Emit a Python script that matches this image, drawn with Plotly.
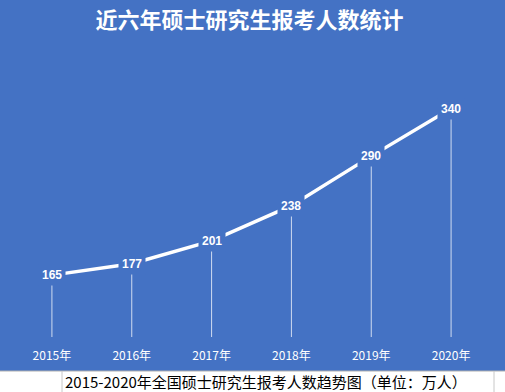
import plotly.graph_objects as go

years = ["2015年", "2016年", "2017年", "2018年", "2019年", "2020年"]
values = [165, 177, 201, 238, 290, 340]
title_text = "近六年硕士研究生报考人数统计"
caption_text = "2015-2020年全国硕士研究生报考人数趋势图（单位：万人）"
y_min, y_max = 100, 350

BLUE = "#4472C4"
W, H = 505, 392
L, R, T, B = 12, 14, 99, 55
PW, PH = W - L - R, H - T - B

def px_x(p):
    return (p - L) / PW

def px_y(p):
    return (H - B - p) / PH

fig = go.Figure()

# drop lines from each point to the axis base
dx, dy = [], []
for yr, v in zip(years, values):
    dx += [yr, yr, None]
    dy += [v, y_min, None]
fig.add_trace(go.Scatter(x=dx, y=dy, mode="lines",
                         line=dict(color="rgba(255,255,255,0.75)", width=1),
                         hoverinfo="skip", showlegend=False))

# main line
fig.add_trace(go.Scatter(x=years, y=values, mode="lines",
                         line=dict(color="white", width=3.5),
                         showlegend=False))

# value labels with background covering the line
for yr, v in zip(years, values):
    fig.add_annotation(x=yr, y=v, xref="x", yref="y", text=str(v),
                       showarrow=False, bgcolor=BLUE, borderpad=3,
                       font=dict(family="Liberation Sans, Arial, sans-serif",
                                 size=12, color="white", weight="bold"))

# bottom caption strip (spreadsheet cell look)
fig.add_shape(type="rect", xref="paper", yref="paper",
              x0=px_x(-5), x1=px_x(W + 5), y0=px_y(H + 5), y1=px_y(371),
              fillcolor="white", line=dict(width=0), layer="above")
fig.add_shape(type="line", xref="paper", yref="paper",
              x0=px_x(-5), x1=px_x(W + 5), y0=px_y(371), y1=px_y(371),
              line=dict(color="#b0b0b0", width=1), layer="above")
for xp in (62, 494):
    fig.add_shape(type="line", xref="paper", yref="paper",
                  x0=px_x(xp), x1=px_x(xp), y0=px_y(371), y1=px_y(H + 5),
                  line=dict(color="#c8c8c8", width=1), layer="above")
fig.add_annotation(x=px_x(63), y=px_y(381.5), xref="paper", yref="paper",
                   xanchor="left", yanchor="middle", text=caption_text,
                   showarrow=False,
                   font=dict(family="Noto Sans CJK SC", size=15, color="black"))

fig.update_layout(
    width=W, height=H,
    margin=dict(l=L, r=R, t=T, b=B),
    paper_bgcolor=BLUE, plot_bgcolor=BLUE,
    title=dict(text=title_text, x=0.494, xanchor="center",
               y=1 - 20 / H, yanchor="middle", yref="container",
               font=dict(family="Noto Sans CJK SC", size=22, color="white",
                         weight="bold")),
    xaxis=dict(type="category", range=[-0.5, 5.5], showgrid=False,
               showline=False, zeroline=False, ticks="",
               ticklabelstandoff=10,
               tickfont=dict(family="Noto Sans CJK SC", size=12, color="white")),
    yaxis=dict(range=[y_min, y_max], visible=False),
    hovermode=False,
)

fig.write_html("out.html")
